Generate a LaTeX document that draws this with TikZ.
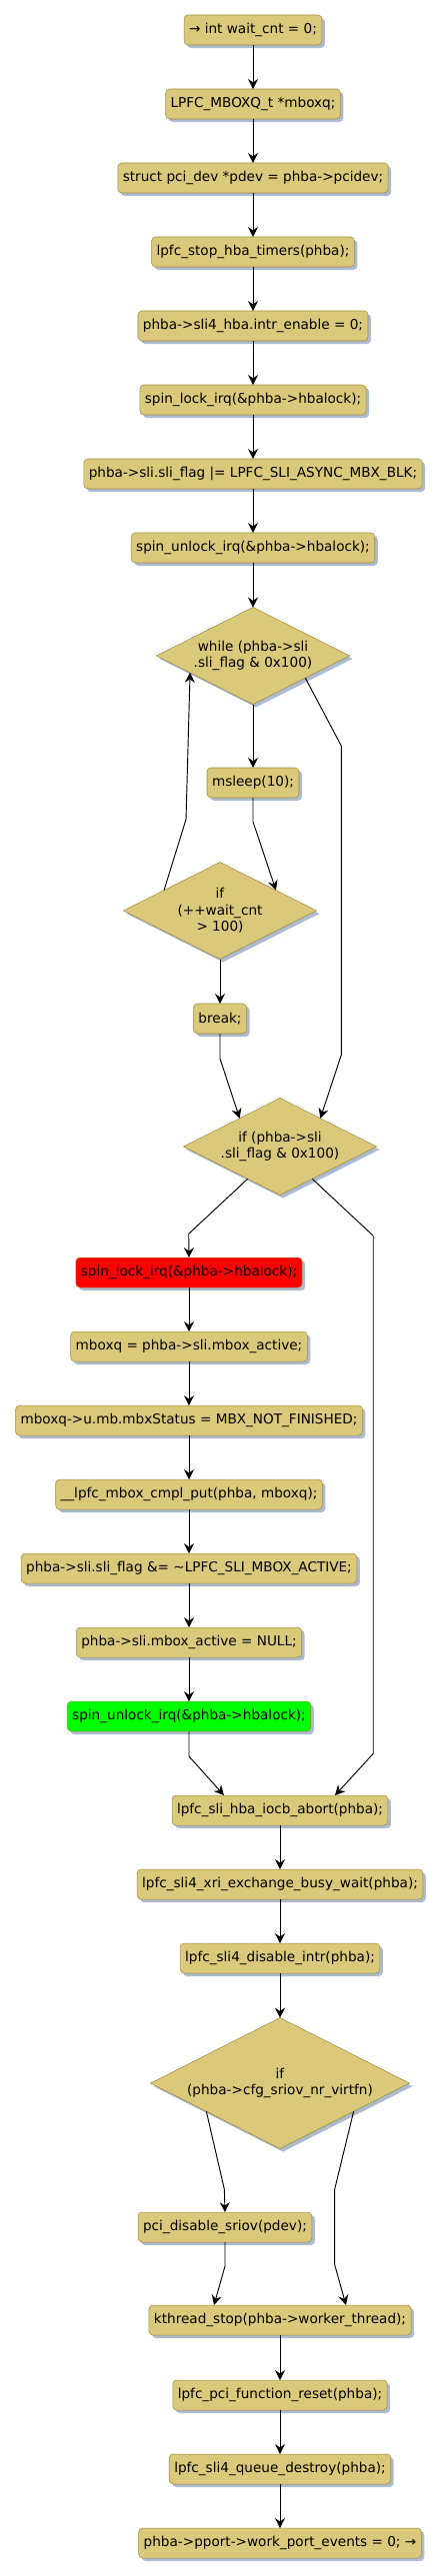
\documentclass[tikz,border=0pt]{standalone}
\usepackage{fontspec}
\setmainfont{DejaVu Sans}
\usetikzlibrary{positioning,shapes.geometric,arrows.meta,shadows}

\definecolor{boxfill}{RGB}{219,201,123}
\definecolor{boxline}{RGB}{160,138,58}
\definecolor{boxshade}{RGB}{172,186,210}

\begin{document}
\begin{tikzpicture}[x=0.75pt, y=0.75pt, node distance=55.5pt,
box/.style={draw=boxline, fill=boxfill, rounded corners=3pt, align=center,
  minimum height=22.5pt, inner xsep=3.75pt, outer sep=0pt,
  font=\fontsize{10.2}{12.5}\selectfont,
  drop shadow={shadow xshift=2.25pt, shadow yshift=-2.25pt, fill=boxshade, opacity=1}},
decision/.style={box, diamond, sharp corners, aspect=2, inner sep=0pt,
  minimum width=144.75pt, minimum height=72.75pt},
flow/.style={-{Stealth[length=7.5pt, width=7.5pt, inset=2.6pt]}, line width=0.7pt}]

\useasboundingbox (-253,30) rectangle (190,-2547);

\node (start) [box] {→ int wait\_cnt = 0;};
\node (mboxq) [box, below of=start] {LPFC\_MBOXQ\_t *mboxq;};
\node (pdev) [box, below of=mboxq] {struct pci\_dev *pdev = phba->pcidev;};
\node (timers) [box, below of=pdev] {lpfc\_stop\_hba\_timers(phba);};
\node (intr) [box, below of=timers] {phba->sli4\_hba.intr\_enable = 0;};
\node (lock) [box, below of=intr] {spin\_lock\_irq(\&phba->hbalock);};
\node (asyncflag) [box, below of=lock] {phba->sli.sli\_flag |= LPFC\_SLI\_ASYNC\_MBX\_BLK;};
\node (unlock) [box, below of=asyncflag] {spin\_unlock\_irq(\&phba->hbalock);};

% wait loop
\node (waitloop) [decision, below of=unlock, node distance=81pt] {while (phba->sli\\.sli\_flag \& 0x100)};
\node (sleep) [box, below of=waitloop, node distance=95.25pt] {msleep(10);};
\node (waitcnt) [decision, below of=sleep, node distance=96pt, xshift=-24.75pt] {if\\(++wait\_cnt\\> 100)};
\node (brk) [box, below of=waitcnt, node distance=81pt] {break;};

% mailbox still active
\node (chkactive) [decision, below of=brk, node distance=96pt, xshift=45pt] {if (phba->sli\\.sli\_flag \& 0x100)};
\node (lockb) [box, fill=red, below of=chkactive, node distance=94.5pt, xshift=-68.25pt] {spin\_lock\_irq(\&phba->hbalock);};
\node (mboxact) [box, below of=lockb] {mboxq = phba->sli.mbox\_active;};
\node (mbxstatus) [box, below of=mboxact] {mboxq->u.mb.mbxStatus = MBX\_NOT\_FINISHED;};
\node (cmplput) [box, below of=mbxstatus] {\_\_lpfc\_mbox\_cmpl\_put(phba, mboxq);};
\node (clrflag) [box, below of=cmplput] {phba->sli.sli\_flag \&= \textasciitilde LPFC\_SLI\_MBOX\_ACTIVE;};
\node (nullact) [box, below of=clrflag] {phba->sli.mbox\_active = NULL;};
\node (unlockb) [box, fill=green, below of=nullact] {spin\_unlock\_irq(\&phba->hbalock);};

\node (abort) [box, below of=unlockb, node distance=70.5pt, xshift=68.25pt] {lpfc\_sli\_hba\_iocb\_abort(phba);};
\node (xriwait) [box, below of=abort] {lpfc\_sli4\_xri\_exchange\_busy\_wait(phba);};
\node (disintr) [box, below of=xriwait] {lpfc\_sli4\_disable\_intr(phba);};

% sriov
\node (chksriov) [decision, below of=disintr, node distance=93.75pt, minimum width=194.25pt, minimum height=98.25pt] {if\\(phba->cfg\_sriov\_nr\_virtfn)};
\node (dissriov) [box, below of=chksriov, node distance=108pt, xshift=-41.25pt] {pci\_disable\_sriov(pdev);};
\node (kstop) [box, below of=dissriov, node distance=69.75pt, xshift=41.25pt] {kthread\_stop(phba->worker\_thread);};
\node (fnreset) [box, below of=kstop, node distance=56.25pt] {lpfc\_pci\_function\_reset(phba);};
\node (qdestroy) [box, below of=fnreset] {lpfc\_sli4\_queue\_destroy(phba);};
\node (finish) [box, below of=qdestroy] {phba->pport->work\_port\_events = 0; →};

\draw [flow] (start) -- (mboxq);
\draw [flow] (mboxq) -- (pdev);
\draw [flow] (pdev) -- (timers);
\draw [flow] (timers) -- (intr);
\draw [flow] (intr) -- (lock);
\draw [flow] (lock) -- (asyncflag);
\draw [flow] (asyncflag) -- (unlock);
\draw [flow] (unlock) -- (waitloop);
\draw [flow] (waitloop) -- (sleep);
\draw [flow] (sleep.south) -- ++(0,-24) -- (waitcnt.20);
\draw [flow] (waitcnt.160) -- ++(22,71) -- (waitloop.195);
\draw [flow] (waitcnt) -- (brk);
\draw [flow] (waitloop.-23) -- ++(36,-68) -- ++(0,-309) -- (chkactive.35);
\draw [flow] (brk.south) -- ++(0,-25) -- (chkactive.145);
\draw [flow] (chkactive.225) -- ++(-59,-55) -- (lockb.north);
\draw [flow] (lockb) -- (mboxact);
\draw [flow] (mboxact) -- (mbxstatus);
\draw [flow] (mbxstatus) -- (cmplput);
\draw [flow] (cmplput) -- (clrflag);
\draw [flow] (clrflag) -- (nullact);
\draw [flow] (nullact) -- (unlockb);
\draw [flow] (unlockb.south) -- ++(0,-25) -- ([xshift=-42pt]abort.north);
\draw [flow] (chkactive.-45) -- ++(61,-57) -- ++(0,-518) -- ([xshift=41.25pt]abort.north);
\draw [flow] (abort) -- (xriwait);
\draw [flow] (xriwait) -- (disintr);
\draw [flow] (disintr) -- (chksriov);
\draw [flow] (chksriov.201) -- ++(18,-78) -- (dissriov.north);
\draw [flow] (chksriov.-21) -- ++(-19,-78) -- ++(0,-75) -- ([xshift=49.5pt]kstop.north);
\draw [flow] (dissriov.south) -- ++(0,-24) -- ([xshift=-49.5pt]kstop.north);
\draw [flow] (kstop) -- (fnreset);
\draw [flow] (fnreset) -- (qdestroy);
\draw [flow] (qdestroy) -- (finish);

\end{tikzpicture}
\end{document}
